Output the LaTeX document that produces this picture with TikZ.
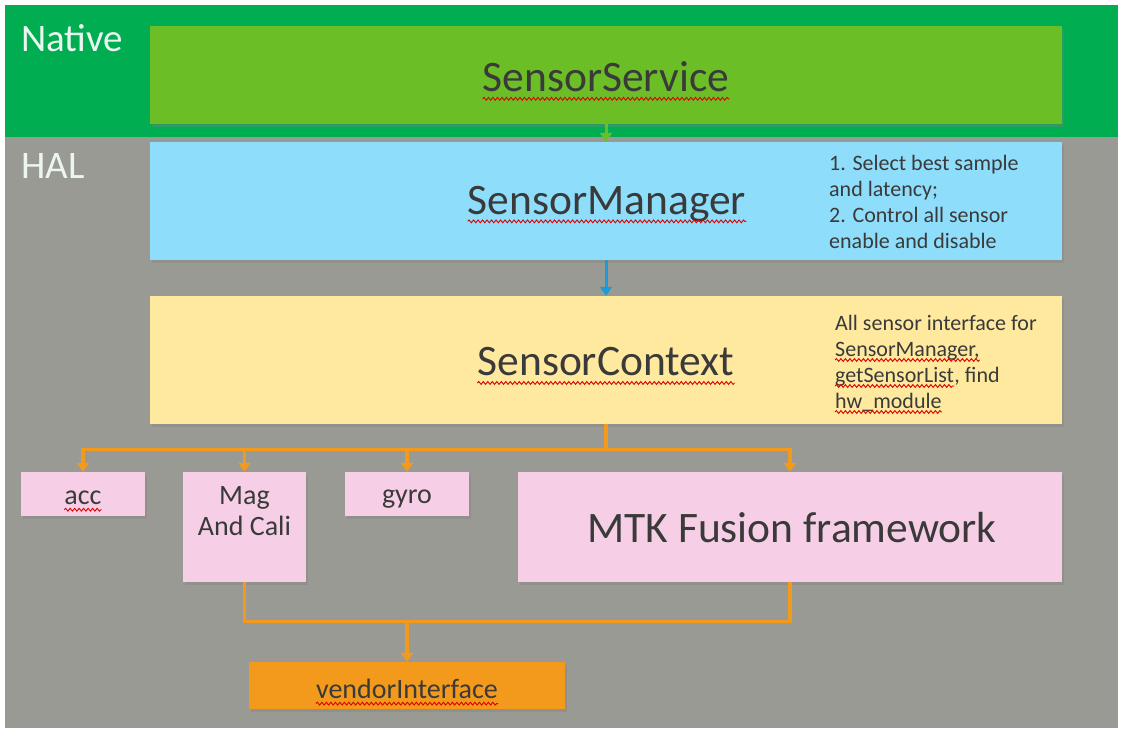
\documentclass[tikz,border=0pt]{standalone}
\usepackage{fontspec}
\setmainfont{Carlito}
\usetikzlibrary{arrows.meta,shadows,decorations.pathmorphing}
\definecolor{nativegreen}{HTML}{00AD50}
\definecolor{halgray}{HTML}{999A94}
\definecolor{ssgreen}{HTML}{6BBE26}
\definecolor{smblue}{HTML}{8EDDFB}
\definecolor{arrblue}{HTML}{1E9AD6}
\definecolor{scyellow}{HTML}{FFE99E}
\definecolor{sensorpink}{HTML}{F6CFE6}
\definecolor{vorange}{HTML}{F39A1D}
\definecolor{txt}{HTML}{3A3A3A}
\definecolor{lbl}{HTML}{EAF6EF}
\newcommand\fbig{\fontsize{43.5}{50}\selectfont}
\newcommand\fmid{\fontsize{28}{31}\selectfont}
\newcommand\fnote{\fontsize{22}{26}\selectfont}
\begin{document}
\begin{tikzpicture}[x=1pt,y=-1pt,
  box/.style={inner sep=0pt, text=txt, align=center,
    drop shadow={shadow xshift=2pt,shadow yshift=-2.5pt,opacity=0.35}},
  lab/.style={inner sep=0pt, text=txt},
  nl/.style={inner sep=0pt, text=txt, font=\fnote, anchor=base west},
  layer/.style={inner sep=0pt, text=lbl, font=\fontsize{39}{44}\selectfont, anchor=west},
  tip/.style={-{Triangle[width=12pt,length=9pt]}},
  conn/.style={line width=3.3pt, draw=vorange},
  squig/.style={draw=red!85!black, line width=0.9pt, decorate,
    decoration={snake, segment length=4.5pt, amplitude=1.4pt}},
]
\fill[white] (0,0) rectangle (1133,732);
\useasboundingbox (0,0) rectangle (1133,732);
% bands
\fill[halgray] (5,137) rectangle (1118,728);
\fill[nativegreen] (5,5) rectangle (1118,137);
\node[layer] (native) at (21,38) {Native};
\node[layer] (hal) at (21,166) {HAL};
% main boxes
\node[box, fill=ssgreen, minimum width=912pt, minimum height=98pt] (ss) at (606,75) {};
\node[lab, font=\fbig] (sst) at (606,77) {SensorService};
\node[box, fill=smblue, minimum width=912pt, minimum height=118pt] (sm) at (606,201) {};
\node[lab, font=\fbig] (smt) at (607,204) {SensorManager};
\node[nl] (sm1) at (829,170) {1. Select best sample};
\node[nl] (sm2) at (829,196) {and latency;};
\node[nl] (sm3) at (829,222) {2. Control all sensor};
\node[nl] (sm4) at (829,248) {enable and disable};
\node[box, fill=scyellow, minimum width=912pt, minimum height=128pt] (sc) at (606,360) {};
\node[lab, font=\fbig] (sct) at (606,362) {SensorContext};
\node[nl] (sc1) at (835,330) {All sensor interface for};
\node[nl] (sc2) at (835,356) {SensorManager,};
\node[nl] (sc3) at (835,382) {getSensorList};
\node[nl] (sc3b) at (sc3.base east) {, find};
\node[nl] (sc4) at (835,408) {hw\_module};
% sensors
\node[box, fill=sensorpink, minimum width=124pt, minimum height=44pt] (acc) at (83,494) {};
\node[lab, font=\fmid] (acct) at (83,498) {acc};
\node[box, fill=sensorpink, minimum width=123pt, minimum height=110pt] (mag) at (244.5,527) {};
\node[lab, font=\fmid, align=center, anchor=north] (magt) at (244.5,486) {Mag\\And Cali};
\node[box, fill=sensorpink, minimum width=124pt, minimum height=44pt] (gyro) at (407,494) {};
\node[lab, font=\fmid] (gyrot) at (407,499) {gyro};
\node[box, fill=sensorpink, minimum width=544pt, minimum height=110pt] (fus) at (790,527) {};
\node[lab, font=\fbig] (fust) at (792,528) {MTK Fusion framework};
\node[box, fill=vorange, minimum width=316pt, minimum height=47pt] (vi) at (407,685.5) {};
\node[lab, font=\fmid] (vit) at (407,689) {vendorInterface};
% spell-check squiggles
\foreach \n/\d in {sst/7pt, smt/7pt, sct/7pt, acct/5pt, vit/5pt, sc2/4pt, sc3/4pt, sc4/4pt}
  \draw[squig] ([yshift=-\d]\n.base west) -- ([yshift=-\d]\n.base east);
% connectors
\draw[tip, line width=3pt, draw=ssgreen] (ss.south) -- (sm.north);
\draw[tip, line width=3pt, draw=arrblue] (sm.south) -- (sc.north);
\path (sc.south) ++(0,25) coordinate (t);
\draw[conn] (sc.south) -- (t);
\draw[conn, tip] (t) -| (acc.north);
\draw[conn, tip] (t) -| (mag.north);
\draw[conn, tip] (t) -| (gyro.north);
\draw[conn, tip] (t) -| (fus.north);
\path (vi.north) ++(0,-40) coordinate (b);
\draw[conn] (mag.south) |- (b) -| (fus.south);
\draw[conn, tip] (b) -- (vi.north);
\end{tikzpicture}
\end{document}
